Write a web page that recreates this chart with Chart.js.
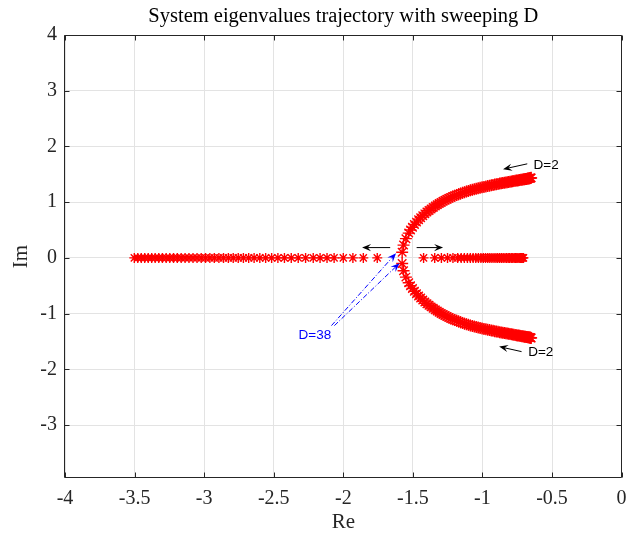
<!DOCTYPE html>
<html>
<head>
<meta charset="utf-8">
<script src="https://cdn.jsdelivr.net/npm/chart.js@4.4.1/dist/chart.umd.min.js"></script>
<style>
html,body{margin:0;padding:0;overflow:hidden;background:#fff;width:629px;height:533px}
canvas{display:block}
</style>
</head>
<body>
<canvas id="c" width="629" height="533"></canvas>
<script>
// ---------------- data ----------------
const titleText = 'System eigenvalues trajectory with sweeping D';
const xLabel = 'Re';
const yLabel = 'Im';
const xTickStep = 0.5;
const yTickStep = 1;

// real-axis branch moving left
const leftRe = [-3.502,-3.477,-3.452,-3.427,-3.402,-3.377,-3.352,-3.326,-3.300,-3.273,-3.247,-3.220,-3.193,-3.165,-3.137,-3.109,-3.080,-3.051,-3.021,-2.990,-2.959,-2.927,-2.894,-2.861,-2.826,-2.791,-2.755,-2.718,-2.680,-2.641,-2.600,-2.558,-2.515,-2.470,-2.423,-2.374,-2.324,-2.271,-2.216,-2.167,-2.117,-2.066,-2.000,-1.931,-1.856,-1.756];
const leftIm = [0,0,0,0,0,0,0,0,0,0,0,0,0,0,0,0,0,0,0,0,0,0,0,0,0,0,0,0,0,0,0,0,0,0,0,0,0,0,0,0,0,0,0,0,0,0];

// real-axis branch moving right
const rightRe = [-1.423,-1.343,-1.295,-1.251,-1.212,-1.178,-1.153,-1.130,-1.108,-1.087,-1.067,-1.048,-1.029,-1.011,-0.994,-0.978,-0.962,-0.947,-0.932,-0.917,-0.903,-0.890,-0.876,-0.863,-0.851,-0.838,-0.826,-0.815,-0.804,-0.793,-0.782,-0.772,-0.762,-0.753,-0.745,-0.736,-0.728,-0.721,-0.715,-0.709,-0.705];
const rightIm = [0,0,0,0,0,0,0,0,0,0,0,0,0,0,0,0,0,0,0,0,0,0,0,0,0,0,0,0,0,0,0,0,0,0,0,0,0,0,0,0,0];

// complex branch, upper half
const upperRe = [-1.577,-1.567,-1.550,-1.530,-1.517,-1.503,-1.489,-1.474,-1.459,-1.444,-1.429,-1.414,-1.399,-1.384,-1.369,-1.354,-1.339,-1.325,-1.311,-1.297,-1.283,-1.269,-1.255,-1.241,-1.227,-1.213,-1.199,-1.185,-1.171,-1.157,-1.143,-1.129,-1.115,-1.101,-1.087,-1.073,-1.059,-1.045,-1.031,-1.017,-1.003,-0.989,-0.975,-0.962,-0.949,-0.936,-0.924,-0.912,-0.900,-0.888,-0.876,-0.865,-0.854,-0.843,-0.832,-0.822,-0.812,-0.802,-0.792,-0.783,-0.774,-0.765,-0.756,-0.748,-0.740,-0.732,-0.724,-0.717,-0.710,-0.703,-0.697,-0.691,-0.685,-0.679,-0.674,-0.669,-0.664,-0.660,-0.656,-0.653,-0.650];
const upperIm = [0.100,0.230,0.345,0.445,0.500,0.550,0.598,0.642,0.683,0.721,0.757,0.790,0.822,0.851,0.879,0.905,0.930,0.953,0.975,0.996,1.016,1.035,1.053,1.070,1.086,1.101,1.116,1.130,1.143,1.156,1.168,1.180,1.191,1.202,1.212,1.222,1.232,1.241,1.250,1.258,1.266,1.274,1.282,1.289,1.296,1.303,1.309,1.315,1.321,1.327,1.333,1.338,1.343,1.348,1.353,1.358,1.362,1.367,1.371,1.375,1.379,1.383,1.387,1.391,1.394,1.397,1.401,1.404,1.407,1.410,1.413,1.416,1.418,1.421,1.423,1.426,1.428,1.430,1.432,1.434,1.436];

// complex branch, lower half
const lowerRe = [-1.577,-1.567,-1.550,-1.530,-1.517,-1.503,-1.489,-1.474,-1.459,-1.444,-1.429,-1.414,-1.399,-1.384,-1.369,-1.354,-1.339,-1.325,-1.311,-1.297,-1.283,-1.269,-1.255,-1.241,-1.227,-1.213,-1.199,-1.185,-1.171,-1.157,-1.143,-1.129,-1.115,-1.101,-1.087,-1.073,-1.059,-1.045,-1.031,-1.017,-1.003,-0.989,-0.975,-0.962,-0.949,-0.936,-0.924,-0.912,-0.900,-0.888,-0.876,-0.865,-0.854,-0.843,-0.832,-0.822,-0.812,-0.802,-0.792,-0.783,-0.774,-0.765,-0.756,-0.748,-0.740,-0.732,-0.724,-0.717,-0.710,-0.703,-0.697,-0.691,-0.685,-0.679,-0.674,-0.669,-0.664,-0.660,-0.656,-0.653,-0.650];
const lowerIm = [-0.100,-0.230,-0.345,-0.445,-0.500,-0.550,-0.598,-0.642,-0.683,-0.721,-0.757,-0.790,-0.822,-0.851,-0.879,-0.905,-0.930,-0.953,-0.975,-0.996,-1.016,-1.035,-1.053,-1.070,-1.086,-1.101,-1.116,-1.130,-1.143,-1.156,-1.168,-1.180,-1.191,-1.202,-1.212,-1.222,-1.232,-1.241,-1.250,-1.258,-1.266,-1.274,-1.282,-1.289,-1.296,-1.303,-1.309,-1.315,-1.321,-1.327,-1.333,-1.338,-1.343,-1.348,-1.353,-1.358,-1.362,-1.367,-1.371,-1.375,-1.379,-1.383,-1.387,-1.391,-1.394,-1.397,-1.401,-1.404,-1.407,-1.410,-1.413,-1.416,-1.418,-1.421,-1.423,-1.426,-1.428,-1.430,-1.432,-1.434,-1.436];

// ---------------- build chart ----------------
const SERIF = "'Liberation Serif','Times New Roman',serif";
const SANS = "'Liberation Sans',Arial,sans-serif";
const AXIS = '#262626';
function pts(re, im){ return re.map((v,i)=>({x:v, y:im[i]})); }
const realStar = {pointStyle:'star', pointRadius:5, pointBorderColor:'#ff0000', pointBackgroundColor:'#ff0000', pointBorderWidth:1.4, showLine:false};
const curveStar = {pointStyle:'star', pointRadius:6, pointBorderColor:'#ff0000', pointBackgroundColor:'#ff0000', pointBorderWidth:1.4, showLine:false};

function drawArrow(ctx, x0, y0, x1, y1, color, dash){
  const ang = Math.atan2(y1-y0, x1-x0);
  const L = 9, W = 3.6;
  const c = Math.cos(ang), s = Math.sin(ang);
  ctx.save();
  ctx.strokeStyle = color; ctx.fillStyle = color; ctx.lineWidth = 1;
  if (dash) ctx.setLineDash(dash);
  ctx.beginPath(); ctx.moveTo(x0, y0); ctx.lineTo(x1 - c*L*0.6, y1 - s*L*0.6); ctx.stroke();
  ctx.setLineDash([]);
  const bx = x1 - c*L, by = y1 - s*L, nx = x1 - c*L*0.62, ny = y1 - s*L*0.62;
  const px = -s*W, py = c*W;
  ctx.beginPath(); ctx.moveTo(x1, y1); ctx.lineTo(bx+px, by+py); ctx.lineTo(nx, ny); ctx.lineTo(bx-px, by-py); ctx.closePath(); ctx.fill();
  ctx.restore();
}

const framePlugin = {
  id: 'frame',
  afterDraw(chart){
    const {ctx, chartArea:a, scales:{x, y}} = chart;
    ctx.save();
    ctx.strokeStyle = AXIS; ctx.lineWidth = 1;
    const L = Math.round(a.left) - 0.5, R = Math.round(a.right) - 0.5, T = Math.round(a.top) + 0.5, B = Math.round(a.bottom) - 0.5;
    ctx.beginPath();
    ctx.rect(L, T, R - L, B - T);
    x.ticks.forEach(t => { const p = Math.round(x.getPixelForValue(t.value)) + 0.5; ctx.moveTo(p, B); ctx.lineTo(p, B - 5); ctx.moveTo(p, T); ctx.lineTo(p, T + 5); });
    y.ticks.forEach(t => { const p = Math.round(y.getPixelForValue(t.value)) + 0.5; ctx.moveTo(L, p); ctx.lineTo(L + 5, p); ctx.moveTo(R, p); ctx.lineTo(R - 5, p); });
    ctx.stroke();

    const X = v => x.getPixelForValue(v), Y = v => y.getPixelForValue(v);
    // black arrows
    drawArrow(ctx, X(-0.678), Y(1.688), X(-0.852), Y(1.592), '#000');
    drawArrow(ctx, X(-0.719), Y(-1.682), X(-0.880), Y(-1.592), '#000');
    drawArrow(ctx, X(-1.663), Y(0.185), X(-1.865), Y(0.185), '#000');
    drawArrow(ctx, X(-1.473), Y(0.185), X(-1.283), Y(0.185), '#000');
    // blue dash-dot arrows
    drawArrow(ctx, X(-2.085), Y(-1.215), X(-1.621), Y(0.084), '#0000ff', [5,2,1,2]);
    drawArrow(ctx, X(-2.064), Y(-1.215), X(-1.596), Y(-0.095), '#0000ff', [5,2,1,2]);
    // texts
    ctx.font = '13.5px ' + SANS;
    ctx.textBaseline = 'middle'; ctx.textAlign = 'left';
    ctx.fillStyle = '#000';
    ctx.fillText('D=2', X(-0.633), Y(1.661));
    ctx.fillText('D=2', X(-0.671), Y(-1.697));
    ctx.fillStyle = '#0000ff';
    ctx.fillText('D=38', X(-2.322), Y(-1.397));
    ctx.restore();
  }
};

new Chart(document.getElementById('c'), {
  type: 'scatter',
  data: {
    datasets: [
      Object.assign({data: pts(leftRe, leftIm)}, realStar),
      Object.assign({data: pts(rightRe, rightIm)}, realStar),
      Object.assign({data: pts(upperRe, upperIm)}, curveStar),
      Object.assign({data: pts(lowerRe, lowerIm)}, curveStar)
    ]
  },
  options: {
    responsive: false,
    devicePixelRatio: 1,
    animation: false,
    events: [],
    layout: {padding: {left: 0, right: 2, top: 0, bottom: 0}},
    plugins: {
      legend: {display: false},
      tooltip: {enabled: false},
      title: {display: true, text: titleText, fullSize: false, color: '#000',
        font: {family: SERIF, size: 20.5, weight: 'normal'}, padding: {top: 4, bottom: 6.4}}
    },
    scales: {
      x: {
        type: 'linear', position: 'bottom', min: -4, max: 0,
        ticks: {stepSize: xTickStep, color: AXIS, font: {family: SERIF, size: 20}, padding: 9, maxRotation: 0, autoSkip: false,
          callback: v => String(Math.round(v*10)/10)},
        grid: {color: '#e3e3e3', drawTicks: false, lineWidth: 1},
        border: {display: false},
        title: {display: true, text: xLabel, color: AXIS, font: {family: SERIF, size: 21}, padding: {top: 0, bottom: -2}},
        afterFit(s){ s.height = 55; s.paddingRight = 0; s.paddingLeft = 0; }
      },
      y: {
        type: 'linear', position: 'left', min: -3.95, max: 4,
        ticks: {stepSize: yTickStep, includeBounds: false, color: AXIS, font: {family: SERIF, size: 20}, padding: 8,
          callback: v => String(v)},
        grid: {color: '#e3e3e3', drawTicks: false, lineWidth: 1},
        border: {display: false},
        title: {display: true, text: yLabel, color: AXIS, font: {family: SERIF, size: 21}, padding: {top: 9, bottom: 0}},
        afterFit(s){ s.width = 65; }
      }
    }
  },
  plugins: [framePlugin]
});
</script>
</body>
</html>
